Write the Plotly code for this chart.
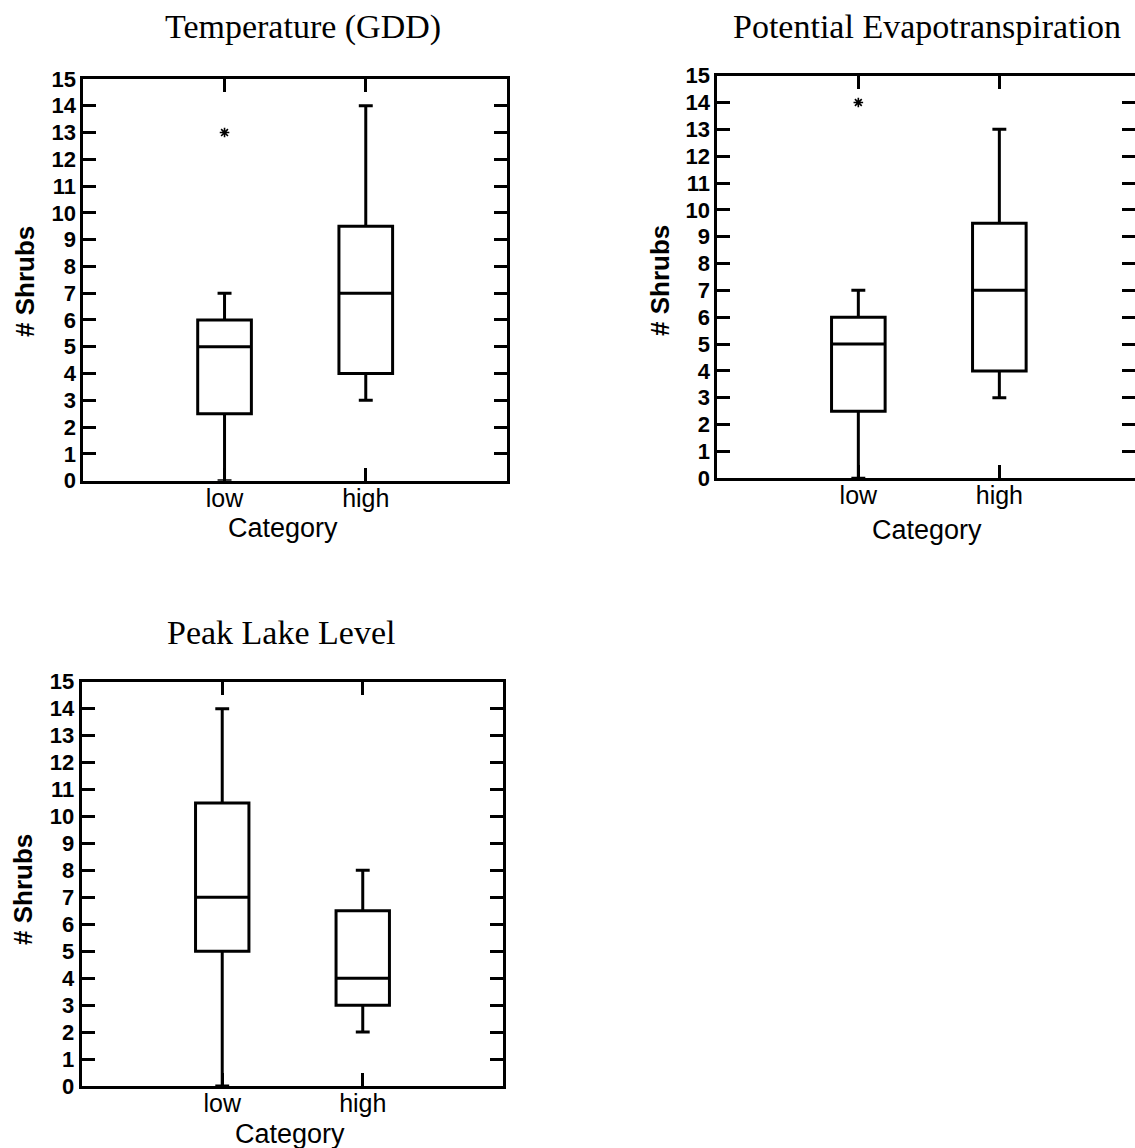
import plotly.graph_objects as go

categories = ["low", "high"]
y_ticks = list(range(0, 16))

# Temperature (GDD)
gdd_lower = [0, 3]
gdd_q1 = [2.5, 4]
gdd_median = [5, 7]
gdd_q3 = [6, 9.5]
gdd_upper = [7, 14]
gdd_out_cat = ["low"]
gdd_out_val = [13]

# Potential Evapotranspiration
pet_lower = [0, 3]
pet_q1 = [2.5, 4]
pet_median = [5, 7]
pet_q3 = [6, 9.5]
pet_upper = [7, 13]
pet_out_cat = ["low"]
pet_out_val = [14]

# Peak Lake Level
lake_lower = [0, 2]
lake_q1 = [5, 3]
lake_median = [7, 4]
lake_q3 = [10.5, 6.5]
lake_upper = [14, 8]

titles = ["Temperature (GDD)", "Potential Evapotranspiration", "Peak Lake Level"]

SANS = "Liberation Sans, Arial, sans-serif"
SERIF = "Liberation Serif, Times New Roman, serif"

fig = go.Figure()

panels = [
    dict(lo=gdd_lower, q1=gdd_q1, med=gdd_median, q3=gdd_q3, hi=gdd_upper,
         oc=gdd_out_cat, ov=gdd_out_val, xa="x", ya="y"),
    dict(lo=pet_lower, q1=pet_q1, med=pet_median, q3=pet_q3, hi=pet_upper,
         oc=pet_out_cat, ov=pet_out_val, xa="x2", ya="y2"),
    dict(lo=lake_lower, q1=lake_q1, med=lake_median, q3=lake_q3, hi=lake_upper,
         oc=[], ov=[], xa="x3", ya="y3"),
]

for p in panels:
    fig.add_trace(go.Box(
        x=categories, q1=p["q1"], median=p["med"], q3=p["q3"],
        lowerfence=p["lo"], upperfence=p["hi"],
        width=0.38, whiskerwidth=0.26, boxpoints=False,
        fillcolor="white", line=dict(color="black", width=3),
        xaxis=p["xa"], yaxis=p["ya"], showlegend=False,
    ))
    if p["ov"]:
        fig.add_trace(go.Scatter(
            x=p["oc"], y=p["ov"], mode="markers",
            marker=dict(symbol="asterisk", size=8, color="black",
                        line=dict(color="black", width=1.6)),
            xaxis=p["xa"], yaxis=p["ya"], showlegend=False,
        ))

def xaxis(domain, rng, anchor):
    return dict(domain=domain, anchor=anchor, type="category",
                categoryorder="array", categoryarray=categories,
                range=rng, showline=True, linewidth=3, linecolor="black",
                mirror="ticks", ticks="inside", ticklen=13, tickwidth=2.5,
                tickcolor="black", showgrid=False, zeroline=False,
                automargin=False, ticklabelstandoff=-7,
                tickfont=dict(family=SANS, size=25, color="black"))

def yaxis(domain, anchor):
    return dict(domain=domain, anchor=anchor, range=[0, 15],
                tickmode="array", tickvals=y_ticks,
                showline=True, linewidth=3, linecolor="black",
                mirror="ticks", ticks="inside", ticklen=13, tickwidth=2.5,
                tickcolor="black", showgrid=False, zeroline=False,
                automargin=False,
                tickfont=dict(family=SANS, size=22, color="black", weight="bold"))

fig.update_layout(
    width=1135, height=1148, autosize=False,
    margin=dict(l=0, r=0, t=0, b=0, pad=0),
    paper_bgcolor="white", plot_bgcolor="white",
    xaxis=xaxis([0.0734, 0.4467], [-1, 2], "y"),
    yaxis=yaxis([0.5813, 0.9312], "x"),
    xaxis2=xaxis([0.6320, 1.0], [-1, 1.962], "y2"),
    yaxis2=yaxis([0.5834, 0.9341], "x2"),
    xaxis3=xaxis([0.0720, 0.4434], [-1, 2], "y3"),
    yaxis3=yaxis([0.0540, 0.4062], "x3"),
)

W, H = 1135, 1148
def ann(text, px, py, font, angle=0):
    fig.add_annotation(text=text, x=px / W, y=1 - py / H, xref="paper", yref="paper",
                       xanchor="center", yanchor="middle", showarrow=False,
                       textangle=angle, font=font)

title_font = dict(family=SERIF, size=34, color="black")
cat_font = dict(family=SANS, size=27, color="black")
ylab_font = dict(family=SANS, size=26, color="black", weight="bold")

ann(titles[0], 303, 27, title_font)
ann(titles[1], 927, 27, title_font)
ann(titles[2], 281, 632, title_font)

ann("Category", 283, 528, cat_font)
ann("Category", 927, 530, cat_font)
ann("Category", 290, 1134, cat_font)

ann("# Shrubs", 25, 282, ylab_font, -90)
ann("# Shrubs", 660, 281, ylab_font, -90)
ann("# Shrubs", 23, 890, ylab_font, -90)

fig.write_html("out.html")
